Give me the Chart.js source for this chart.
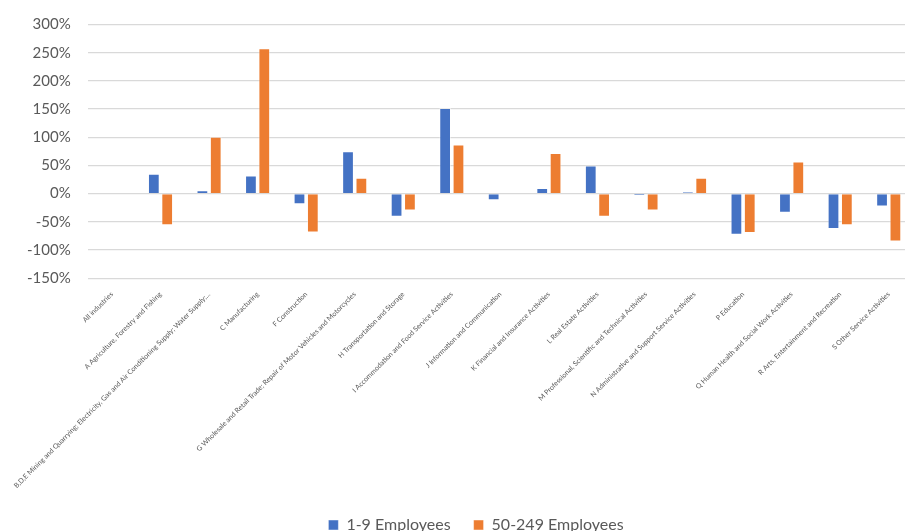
<!DOCTYPE html>
<html>
<head>
<meta charset="utf-8">
<script src="https://cdn.jsdelivr.net/npm/chart.js@4"></script>
<style>
  html, body { margin: 0; padding: 0; background: #fff; overflow: hidden; }
  #wrap { width: 952px; height: 543px; position: relative; }
</style>
</head>
<body>
<div id="wrap"><canvas id="chart"></canvas></div>
<script>
const categories = [
    'All industries',
    'A Agriculture, Forestry and Fishing',
    'B,D,E Mining and Quarrying; Electricity, Gas and Air Conditioning Supply; Water Supply;...',
    'C Manufacturing',
    'F Construction',
    'G Wholesale and Retail Trade; Repair of Motor Vehicles and Motorcycles',
    'H Transportation and Storage',
    'I Accommodation and Food Service Activities',
    'J Information and Communication',
    'K Financial and Insurance Activities',
    'L Real Estate Activities',
    'M Professional, Scientific and Technical Activities',
    'N Administrative and Support Service Activities',
    'P Education',
    'Q Human Health and Social Work Activities',
    'R Arts, Entertainment and Recreation',
    'S Other Service Activities'
];

// percent change
const small = [0, 35, 6, 32, -19, 75, -41, 152, -12, 10, 50, -4, 3, -73, -34, -63, -23];
const medium = [0, -56, 101, 258, -69, 28, -30, 87, 0, 72, -41, -30, 28, -70, 57, -56, -85];

const yTicks = [300, 250, 200, 150, 100, 50, 0, -50, -100, -150];

const grey = '#595959';

// legend sits centred on the whole (wider) chart, not the plot
const legendShift = {
    id: 'legendShift',
    afterLayout(chart) {
        chart.legend.left += 29;
    }
};

new Chart(document.getElementById('chart'), {
    type: 'bar',
    data: {
        labels: categories,
        datasets: [
            {
                label: '1-9 Employees',
                data: small,
                backgroundColor: '#4472C4',
                borderColor: 'rgba(255,255,255,0.45)',
                borderWidth: 1,
                barPercentage: 0.88,
                categoryPercentage: 0.55
            },
            {
                label: '50-249 Employees',
                data: medium,
                backgroundColor: '#ED7D31',
                borderColor: 'rgba(255,255,255,0.45)',
                borderWidth: 1,
                barPercentage: 0.88,
                categoryPercentage: 0.55
            }
        ]
    },
    plugins: [legendShift],
    options: {
        responsive: true,
        maintainAspectRatio: false,
        animation: false,
        layout: { padding: { top: 0, left: 10, right: 39, bottom: 0 } },
        plugins: {
            tooltip: { enabled: false },
            legend: {
                position: 'bottom',
                labels: {
                    boxWidth: 10,
                    boxHeight: 10,
                    padding: 23,
                    color: grey,
                    font: { family: 'Lato', size: 16 }
                }
            }
        },
        scales: {
            x: {
                grid: { display: false },
                border: { display: false },
                ticks: {
                    autoSkip: false,
                    minRotation: 45,
                    maxRotation: 45,
                    color: grey,
                    padding: 4,
                    font: { family: 'Lato', size: 7 }
                }
            },
            y: {
                min: -150,
                max: 300,
                afterBuildTicks: (axis) => {
                    axis.ticks = yTicks.map(v => ({ value: v }));
                },
                grid: { color: '#d9d9d9', lineWidth: 1.3, drawTicks: false },
                border: { display: false },
                ticks: {
                    color: grey,
                    padding: 17,
                    font: { family: 'Lato', size: 15, lineHeight: 1 },
                    callback: (v) => v + '%'
                }
            }
        }
    }
});
</script>
</body>
</html>
